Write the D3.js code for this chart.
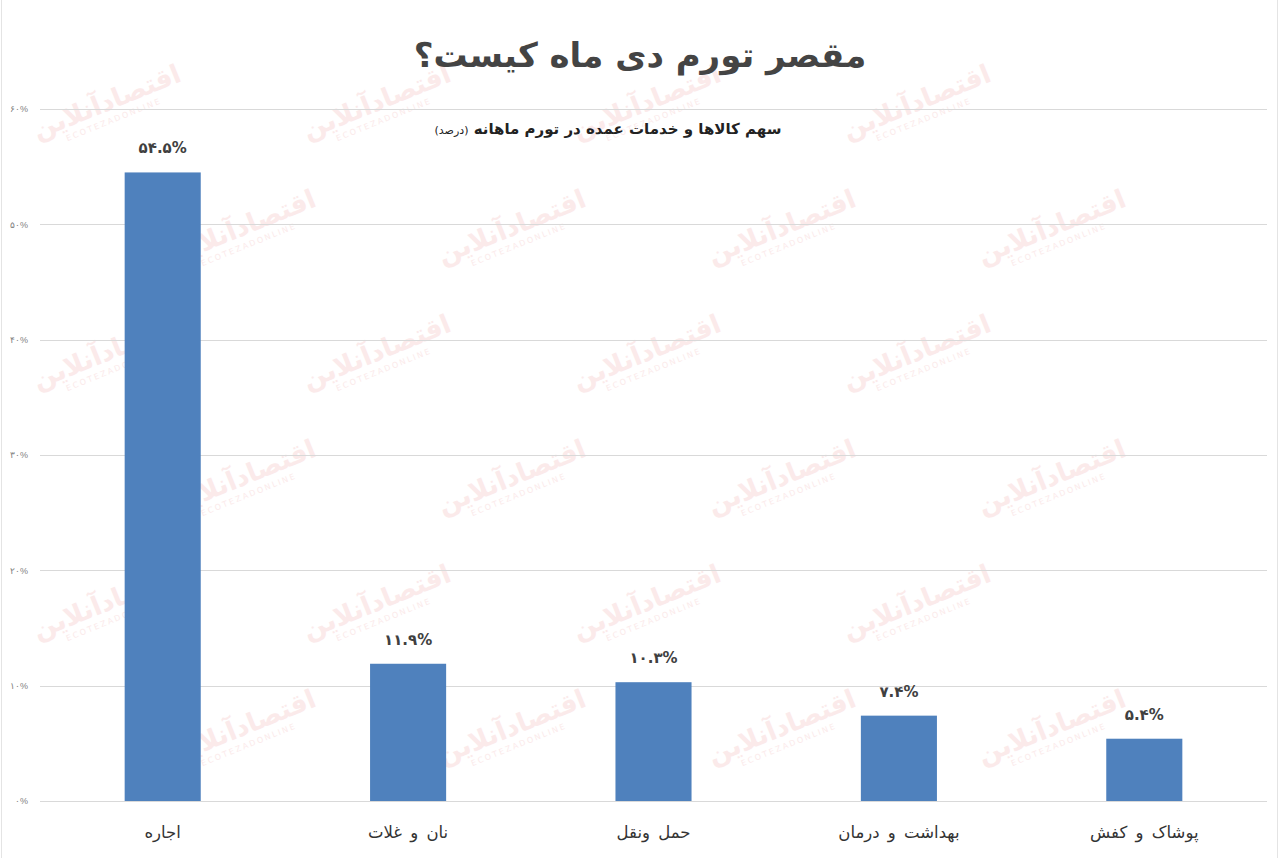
<!DOCTYPE html>
<html lang="fa">
<head>
<meta charset="utf-8">
<script src="https://cdn.jsdelivr.net/npm/d3@7"></script>
<style>
  body { margin: 0; background: #fff; }
  svg { display: block; font-family: "DejaVu Sans", "Noto Sans", sans-serif; }
</style>
</head>
<body>
<div id="chart"></div>
<script>
// chart data
const categories = ['اجاره', 'نان و غلات', 'حمل ونقل', 'بهداشت و درمان', 'پوشاک و کفش'];
const values = [54.5, 11.9, 10.3, 7.4, 5.4];
const yTicks = [0, 10, 20, 30, 40, 50, 60];

const title = 'مقصر تورم دی ماه کیست؟';
const subtitle = 'سهم کالاها و خدمات عمده در تورم ماهانه';
const subtitleUnit = '(درصد)';

const width = 1280, height = 858;
const margin = {top: 109, right: 13, bottom: 57, left: 40};

// persian digits
const fa = s => String(s).replace(/\d/g, d => '۰۱۲۳۴۵۶۷۸۹'[d]);

const svg = d3.select('#chart')
              .append('svg')
              .attr('width', width)
              .attr('height', height);

svg.append('rect')
   .attr('width', width)
   .attr('height', height)
   .attr('fill', '#fff');

// very faint watermark, kept inside the picture
const wm = svg.append('g').attr('class', 'watermark');
for (let row = 0; row < 6; row++) {
    for (let col = 0; col < 5; col++) {
        const x = col * 270 + (row % 2 ? 135 : 0) + 110;
        const y = row * 125 + 110;
        if (x > 1180) continue;
        const g = wm.append('g').attr('transform', `translate(${x},${y}) rotate(-22)`);
        g.append('text')
         .attr('text-anchor', 'middle')
         .attr('font-size', 26)
         .attr('font-weight', 'bold')
         .attr('fill', '#fbeaea')
         .text('اقتصادآنلاین');
        g.append('text')
         .attr('y', 13)
         .attr('text-anchor', 'middle')
         .attr('font-size', 8)
         .attr('letter-spacing', 2)
         .attr('fill', '#fbeaea')
         .text('ECOTEZADONLINE');
    }
}

// thin frame edges
svg.append('line').attr('x1', 1.5).attr('x2', 1.5).attr('y1', 0).attr('y2', height)
   .attr('stroke', '#e4e4e4');
svg.append('line').attr('x1', 1277.5).attr('x2', 1277.5).attr('y1', 0).attr('y2', height)
   .attr('stroke', '#e4e4e4');

const x = d3.scaleBand()
            .domain(categories)
            .range([margin.left, width - margin.right])
            .paddingInner(0.69)
            .paddingOuter(0.345);

const y = d3.scaleLinear()
            .domain([0, 60])
            .range([height - margin.bottom, margin.top]);

// gridlines
svg.append('g')
   .attr('class', 'grid')
   .selectAll('line')
   .data(yTicks)
   .enter().append('line')
   .attr('x1', margin.left)
   .attr('x2', width - margin.right)
   .attr('y1', d => Math.round(y(d)) + 0.5)
   .attr('y2', d => Math.round(y(d)) + 0.5)
   .attr('stroke', '#d9d9d9')
   .attr('stroke-width', 1);

// y axis labels
const yAxis = d3.axisLeft(y)
                .tickValues(yTicks)
                .tickSize(0)
                .tickPadding(12)
                .tickFormat(d => fa(d) + '%');

svg.append('g')
   .attr('transform', `translate(${margin.left},0)`)
   .call(yAxis)
   .call(g => g.select('.domain').remove())
   .call(g => g.selectAll('text')
               .attr('fill', '#7f7f7f')
               .attr('font-size', 9)
               .attr('direction', 'ltr'));

// bars
svg.append('g')
   .attr('class', 'bars')
   .selectAll('rect')
   .data(values)
   .enter().append('rect')
   .attr('x', (d, i) => x(categories[i]))
   .attr('y', d => y(d))
   .attr('width', x.bandwidth())
   .attr('height', d => y(0) - y(d))
   .attr('fill', '#4f81bd');

// value labels
svg.append('g')
   .selectAll('text')
   .data(values)
   .enter().append('text')
   .attr('x', (d, i) => x(categories[i]) + x.bandwidth() / 2)
   .attr('y', d => y(d) - 19)
   .attr('text-anchor', 'middle')
   .attr('direction', 'ltr')
   .attr('font-size', 15)
   .attr('font-weight', 'bold')
   .attr('fill', '#404040')
   .text(d => fa(d.toFixed(1)) + '%');

// category labels
svg.append('g')
   .selectAll('text')
   .data(categories)
   .enter().append('text')
   .attr('x', d => x(d) + x.bandwidth() / 2)
   .attr('y', 838)
   .attr('text-anchor', 'middle')
   .attr('font-size', 16.5)
   .attr('word-spacing', 3)
   .attr('fill', '#333')
   .text(d => d);

// title
svg.append('text')
   .attr('x', 640)
   .attr('y', 67)
   .attr('text-anchor', 'middle')
   .attr('direction', 'rtl')
   .attr('font-size', 34)
   .attr('font-weight', 'bold')
   .attr('fill', '#444')
   .text(title);

const sub = svg.append('text')
   .attr('x', 608)
   .attr('y', 134)
   .attr('text-anchor', 'middle')
   .attr('direction', 'rtl')
   .attr('font-size', 15)
   .attr('font-weight', 'bold')
   .attr('fill', '#222');
sub.append('tspan').text(subtitle + ' ');
sub.append('tspan').attr('font-size', 11).attr('font-weight', 'normal').text(subtitleUnit);
</script>
</body>
</html>
